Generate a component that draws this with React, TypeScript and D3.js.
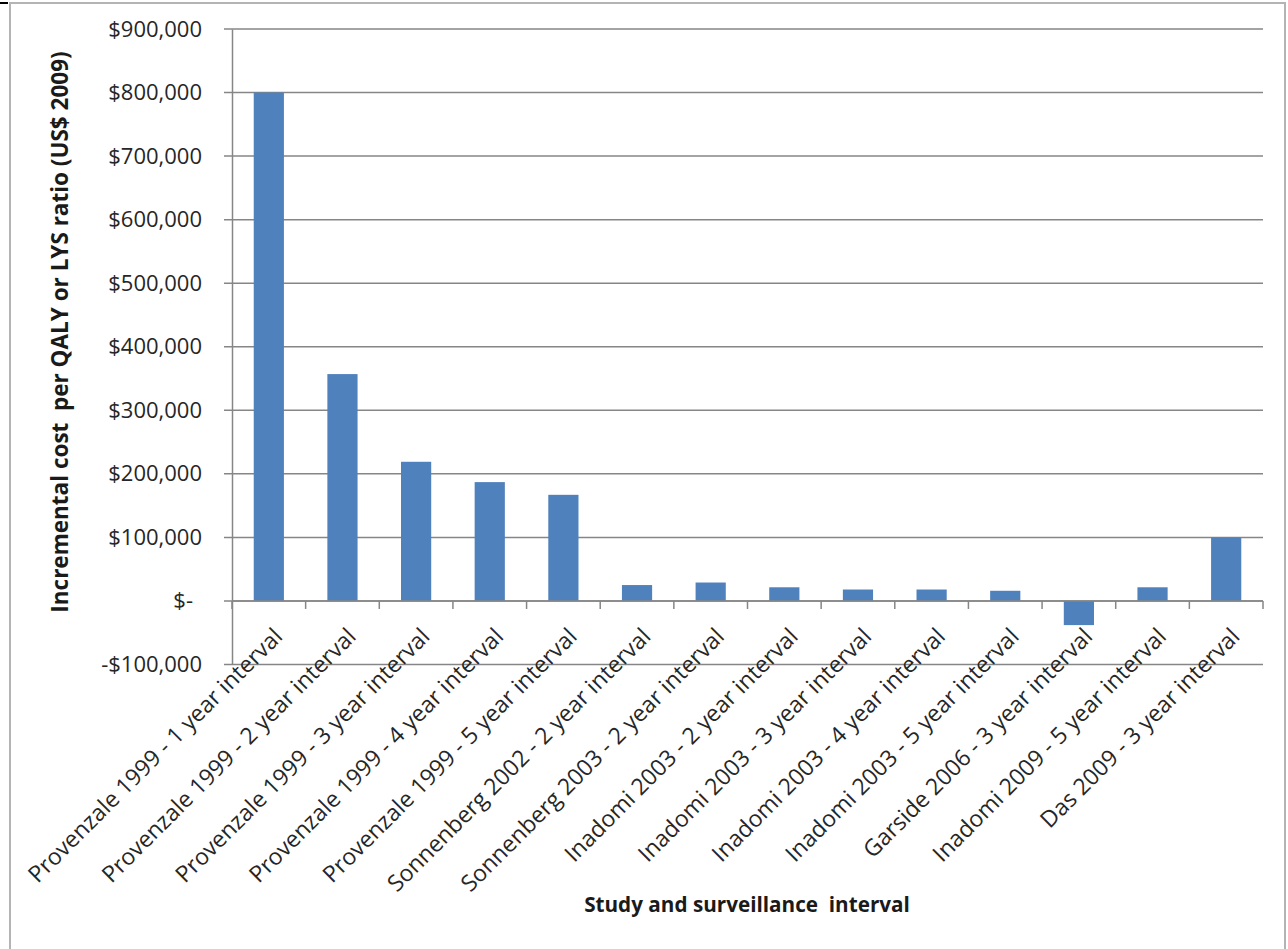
import { useRef, useEffect } from "react";
import * as d3 from "d3";

const categories = [
  "Provenzale 1999 - 1 year interval",
  "Provenzale 1999 - 2 year interval",
  "Provenzale 1999 - 3 year interval",
  "Provenzale 1999 - 4 year interval",
  "Provenzale 1999 - 5 year interval",
  "Sonnenberg 2002 - 2 year interval",
  "Sonnenberg 2003 - 2 year interval",
  "Inadomi 2003 - 2 year interval",
  "Inadomi 2003 - 3 year interval",
  "Inadomi 2003 - 4 year interval",
  "Inadomi 2003 - 5 year interval",
  "Garside 2006 - 3 year interval",
  "Inadomi 2009 - 5 year interval",
  "Das 2009 - 3 year interval",
];

const costs = [
  800000, 357000, 219000, 187000, 167000, 25000, 29000, 21500, 18000, 18000,
  16000, -38000, 21500, 100000,
];

const yTicks = [
  -100000, 0, 100000, 200000, 300000, 400000, 500000, 600000, 700000, 800000,
  900000,
];

const yTitle = "Incremental cost  per QALY or LYS ratio (US$ 2009)";
const xTitle = "Study and surveillance  interval";

const FONT = "'Open Sans', Lato, sans-serif";
const GRID = "#868686";
const BAR = "#4f81bd";

export default function App() {
  const svgRef = useRef<SVGSVGElement>(null);

  useEffect(() => {
    if (!svgRef.current) return;
    const svg = d3.select(svgRef.current);
    svg.selectAll("*").remove();

    const left = 232;
    const right = 1263;
    const top = 29;
    const bottom = 664.5;

    const x = d3
      .scaleBand<string>()
      .domain(categories)
      .range([left, right])
      .paddingInner(0.59)
      .paddingOuter(0.295);
    const y = d3.scaleLinear().domain([-100000, 900000]).range([bottom, top]);

    // frame
    svg
      .append("rect")
      .attr("x", 10)
      .attr("y", 3)
      .attr("width", 1275)
      .attr("height", 960)
      .attr("fill", "white")
      .attr("stroke", "#b4b4b4")
      .attr("stroke-width", 2);
    svg
      .append("line")
      .attr("x1", 0)
      .attr("x2", 8)
      .attr("y1", 3)
      .attr("y2", 3)
      .attr("stroke", "#000")
      .attr("stroke-width", 2);

    // gridlines
    svg
      .append("g")
      .selectAll("line")
      .data(yTicks)
      .join("line")
      .attr("x1", left - 8)
      .attr("x2", right)
      .attr("y1", (d) => y(d))
      .attr("y2", (d) => y(d))
      .attr("stroke", GRID)
      .attr("stroke-width", 1.5);

    // y axis
    const fmt = (v: number) =>
      v === 0 ? "$-" : (v < 0 ? "-$" : "$") + d3.format(",")(Math.abs(v));
    const yAxis = svg
      .append("g")
      .attr("transform", `translate(${left},0)`)
      .call(
        d3
          .axisLeft(y)
          .tickValues(yTicks)
          .tickSize(0)
          .tickPadding(30)
          .tickFormat((d) => fmt(d as number))
      );
    yAxis.select(".domain").attr("stroke", GRID).attr("stroke-width", 1.5);
    yAxis
      .selectAll("text")
      .attr("fill", "#262626")
      .style("font-family", FONT)
      .style("font-size", "22px")
      .attr("dx", (d) => ((d as number) === 0 ? -9 : 0));

    // bars
    svg
      .append("g")
      .selectAll("rect")
      .data(costs)
      .join("rect")
      .attr("x", (_d, i) => x(categories[i])!)
      .attr("width", x.bandwidth())
      .attr("y", (d) => y(Math.max(0, d)))
      .attr("height", (d) => Math.abs(y(d) - y(0)))
      .attr("fill", BAR);

    // x axis
    const step = x.step();
    svg
      .append("line")
      .attr("x1", left)
      .attr("x2", right)
      .attr("y1", y(0))
      .attr("y2", y(0))
      .attr("stroke", GRID)
      .attr("stroke-width", 1.5);
    svg
      .append("g")
      .selectAll("line")
      .data(d3.range(categories.length + 1))
      .join("line")
      .attr("x1", (i) => left + i * step)
      .attr("x2", (i) => left + i * step)
      .attr("y1", y(0))
      .attr("y2", y(0) + 8)
      .attr("stroke", GRID)
      .attr("stroke-width", 1.5);

    // category labels
    svg
      .append("g")
      .selectAll("text")
      .data(categories)
      .join("text")
      .attr(
        "transform",
        (d) => `translate(${x(d)! + x.bandwidth() / 2 + 15},638) rotate(-45)`
      )
      .attr("text-anchor", "end")
      .attr("fill", "#262626")
      .style("font-family", FONT)
      .style("font-size", "23px")
      .text((d) => d);

    // titles
    svg
      .append("text")
      .attr("transform", "translate(68,332) rotate(-90)")
      .attr("text-anchor", "middle")
      .attr("fill", "#1a1a1a")
      .style("font-family", FONT)
      .style("font-size", "22.5px")
      .style("font-weight", "bold")
      .style("white-space", "pre")
      .text(yTitle);
    svg
      .append("text")
      .attr("x", 747)
      .attr("y", 912)
      .attr("text-anchor", "middle")
      .attr("fill", "#1a1a1a")
      .style("font-family", FONT)
      .style("font-size", "20.7px")
      .style("font-weight", "bold")
      .style("white-space", "pre")
      .text(xTitle);
  }, []);

  return (
    <svg
      ref={svgRef}
      width={1288}
      height={949}
      style={{ position: "absolute", left: 0, top: 0, background: "white" }}
    />
  );
}
